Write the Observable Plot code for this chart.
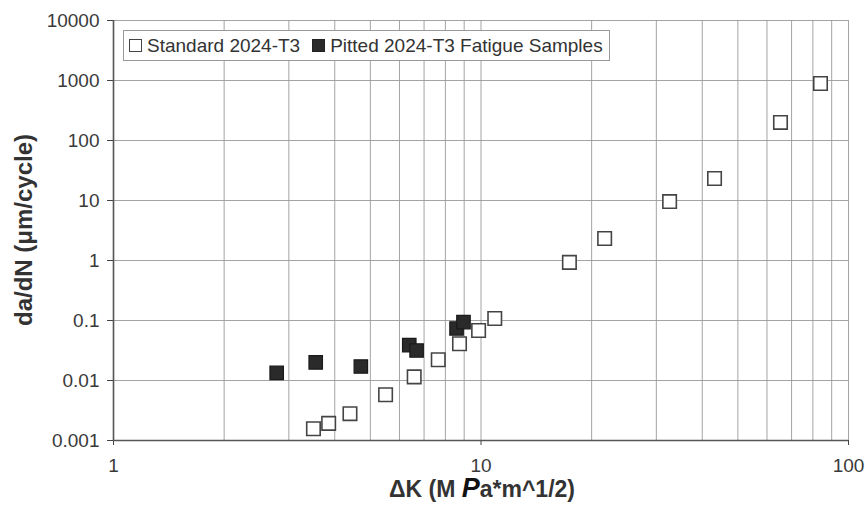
<!DOCTYPE html>
<html><head><meta charset="utf-8">
<script src="https://cdn.jsdelivr.net/npm/d3@7"></script>
<script src="https://cdn.jsdelivr.net/npm/@observablehq/plot@0.6"></script>
<style>
body{margin:0;background:#fff;}
#chart{position:relative;width:865px;height:505px;font-family:"Liberation Sans",Arial,sans-serif;}
#legend{position:absolute;left:123px;top:30px;height:29px;padding:0 6px 0 5px;border:1px solid #999;background:#fff;display:flex;align-items:center;font-size:19px;color:#333;white-space:nowrap;}
#legend .sw{display:inline-block;width:13px;height:13px;margin-right:5px;box-sizing:border-box;}
#legend .open{border:1.5px solid #444;background:#fff;}
#legend .filled{border:1.5px solid #222;background:#2a2a2a;margin-left:12px;}
</style></head><body><div id="chart"></div>
<script>
// Data
const seriesNames = ["Standard 2024-T3", "Pitted 2024-T3 Fatigue Samples"];
const stdX = [3.50, 3.85, 4.40, 5.50, 6.58, 7.65, 8.74, 9.85, 10.9, 17.4, 21.7, 32.6, 43.2, 65.3, 83.9];
const stdY = [0.00157, 0.00193, 0.0028, 0.0058, 0.0115, 0.0222, 0.041, 0.068, 0.108, 0.93, 2.33, 9.6, 23.3, 200, 890];
const pitX = [2.78, 3.55, 4.71, 6.38, 6.68, 8.58, 8.96];
const pitY = [0.0134, 0.020, 0.0171, 0.0388, 0.0316, 0.0736, 0.094];
const xTicks = [1, 10, 100];
const yTicks = [0.001, 0.01, 0.1, 1, 10, 100, 1000, 10000];
const xGrid = [2, 3, 4, 5, 6, 7, 8, 9, 10, 20, 30, 40, 50, 60, 70, 80, 90, 100];
const xTitle = ["ΔK (M ", "P", "a*m^1/2)"];
const yTitle = "da/dN (μm/cycle)";

const std = stdX.map((x, i) => ({x, y: stdY[i]}));
const pit = pitX.map((x, i) => ({x, y: pitY[i]}));

const svg = Plot.plot({
  width: 865, height: 505,
  marginLeft: 113, marginRight: 17, marginTop: 20, marginBottom: 65,
  style: {fontFamily: '"Liberation Sans", Arial, sans-serif', background: "#fff", color: "#333"},
  x: {type: "log", domain: [1, 100]},
  y: {type: "log", domain: [0.001, 10000]},
  marks: [
    Plot.gridX(xGrid, {stroke: "#9a9a9a", strokeOpacity: 1, strokeWidth: 0.9}),
    Plot.gridY(yTicks, {stroke: "#9a9a9a", strokeOpacity: 1, strokeWidth: 0.9}),
    Plot.axisX(xTicks, {tickSize: 5, tickPadding: 13, fontSize: 19, stroke: "#444", fill: "#3a3a3a", label: null, tickFormat: d => String(d)}),
    Plot.axisY(yTicks, {tickSize: 6, tickPadding: 8, fontSize: 19, stroke: "#444", fill: "#3a3a3a", label: null, tickFormat: d => String(d)}),
    Plot.ruleX([1], {stroke: "#555", strokeWidth: 1.6}),
    Plot.ruleY([0.001], {stroke: "#555", strokeWidth: 1.6}),
    Plot.dot(pit, {x: "x", y: "y", symbol: "square", r: 7.6, fill: "#2a2a2a", stroke: "#1a1a1a", strokeWidth: 1.2}),
    Plot.dot(std, {x: "x", y: "y", symbol: "square", r: 7.6, fill: "#fff", stroke: "#444", strokeWidth: 1.6})
  ]
});

const chart = document.getElementById("chart");
chart.appendChild(svg);

const s = d3.select(svg);
s.append("text")
  .attr("transform", "translate(32,230) rotate(-90)")
  .attr("text-anchor", "middle")
  .attr("font-weight", "bold")
  .attr("font-size", 24)
  .attr("fill", "#333")
  .text(yTitle);

const xt = s.append("text")
  .attr("x", 482).attr("y", 497)
  .attr("text-anchor", "middle")
  .attr("font-weight", "bold")
  .attr("font-size", 23)
  .attr("fill", "#333");
xt.append("tspan").text(xTitle[0]);
xt.append("tspan").attr("font-style", "italic").attr("font-size", 27).attr("fill", "#111").text(xTitle[1]);
xt.append("tspan").text(xTitle[2]);

const legend = document.createElement("div");
legend.id = "legend";
legend.innerHTML = `<span class="sw open"></span><span>${seriesNames[0]}</span><span class="sw filled"></span><span>${seriesNames[1]}</span>`;
chart.appendChild(legend);
</script>
</body></html>
